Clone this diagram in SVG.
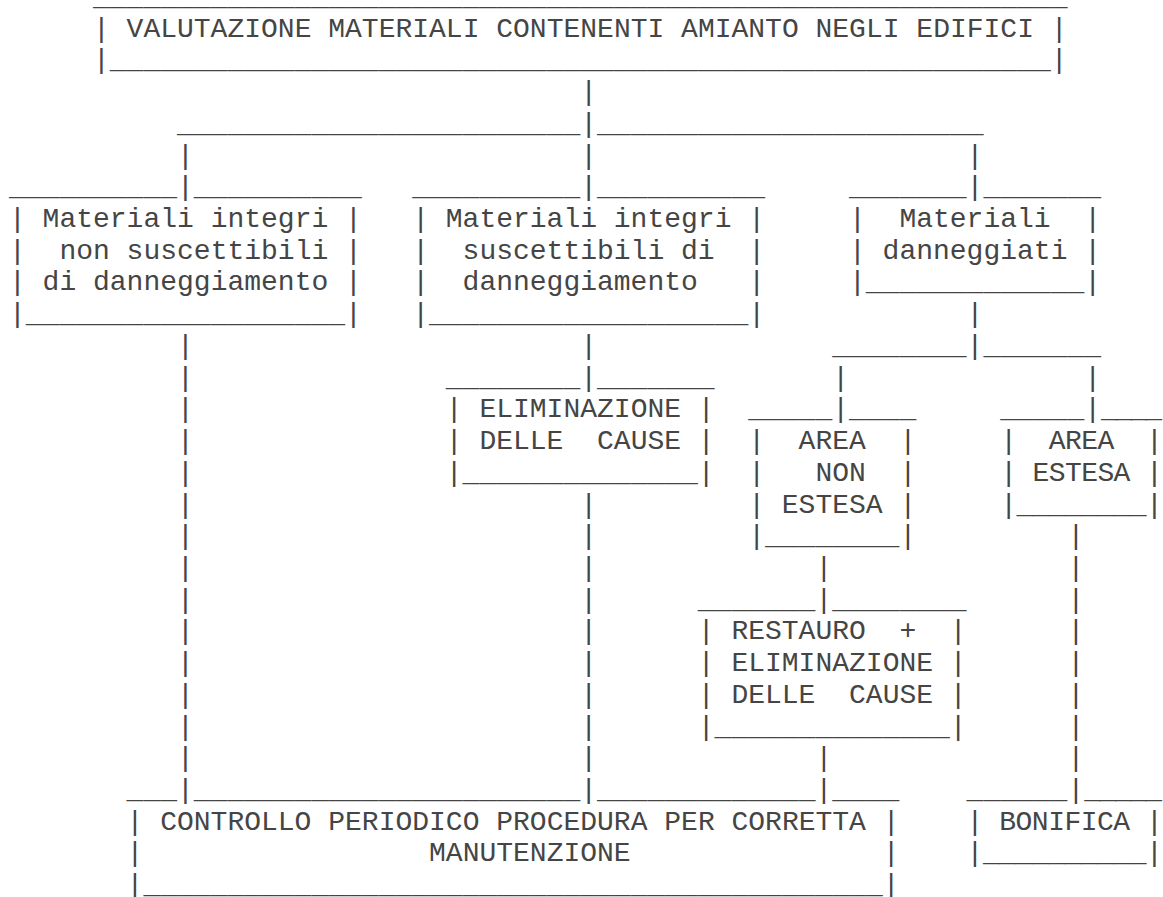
<svg xmlns="http://www.w3.org/2000/svg" width="1163" height="897" viewBox="0 0 1163 897">
<style>
text{font-family:"Liberation Mono","Courier New",monospace;font-size:28px;fill:#454545;white-space:pre}
</style>
<rect width="1163" height="897" fill="#ffffff"/>
<g id="connectors" xml:space="preserve">
<text x="580.2" y="100.16">|</text>
<text x="177" y="131.88">________________________|_______________________</text>
<text><tspan x="177" y="163.6">|</tspan><tspan x="177" y="195.32">|</tspan></text>
<text><tspan x="580.2" y="163.6">|</tspan><tspan x="580.2" y="195.32">|</tspan></text>
<text><tspan x="966.6" y="163.6">|</tspan><tspan x="966.6" y="195.32">|</tspan></text>
<text x="966.6" y="322.2">|</text>
<text><tspan x="177" y="353.92">|</tspan><tspan x="177" y="385.64">|</tspan><tspan x="177" y="417.36">|</tspan><tspan x="177" y="449.08">|</tspan><tspan x="177" y="480.8">|</tspan><tspan x="177" y="512.52">|</tspan><tspan x="177" y="544.24">|</tspan><tspan x="177" y="575.96">|</tspan><tspan x="177" y="607.68">|</tspan><tspan x="177" y="639.4">|</tspan><tspan x="177" y="671.12">|</tspan><tspan x="177" y="702.84">|</tspan><tspan x="177" y="734.56">|</tspan><tspan x="177" y="766.28">|</tspan><tspan x="177" y="798">|</tspan></text>
<text><tspan x="580.2" y="353.92">|</tspan><tspan x="580.2" y="385.64">|</tspan></text>
<text><tspan x="580.2" y="512.52">|</tspan><tspan x="580.2" y="544.24">|</tspan><tspan x="580.2" y="575.96">|</tspan><tspan x="580.2" y="607.68">|</tspan><tspan x="580.2" y="639.4">|</tspan><tspan x="580.2" y="671.12">|</tspan><tspan x="580.2" y="702.84">|</tspan><tspan x="580.2" y="734.56">|</tspan><tspan x="580.2" y="766.28">|</tspan><tspan x="580.2" y="798">|</tspan></text>
<text x="832.2" y="353.92">________|_______</text>
<text><tspan x="832.2" y="385.64">|</tspan><tspan x="832.2" y="417.36">|</tspan></text>
<text><tspan x="1084.2" y="385.64">|</tspan><tspan x="1084.2" y="417.36">|</tspan></text>
<text><tspan x="815.4" y="575.96">|</tspan><tspan x="815.4" y="607.68">|</tspan></text>
<text><tspan x="815.4" y="766.28">|</tspan><tspan x="815.4" y="798">|</tspan></text>
<text><tspan x="1067.4" y="544.24">|</tspan><tspan x="1067.4" y="575.96">|</tspan><tspan x="1067.4" y="607.68">|</tspan><tspan x="1067.4" y="639.4">|</tspan><tspan x="1067.4" y="671.12">|</tspan><tspan x="1067.4" y="702.84">|</tspan><tspan x="1067.4" y="734.56">|</tspan><tspan x="1067.4" y="766.28">|</tspan><tspan x="1067.4" y="798">|</tspan></text>
</g>
<g id="node-valutazione" xml:space="preserve">
<text x="93" y="5">__________________________________________________________</text>
<text x="93" y="36.72">| VALUTAZIONE MATERIALI CONTENENTI AMIANTO NEGLI EDIFICI |</text>
<text x="93" y="68.44">|________________________________________________________|</text>
</g>
<g id="node-integri-non-suscettibili" xml:space="preserve">
<text x="9" y="195.32">__________</text>
<text x="193.8" y="195.32">__________</text>
<text x="9" y="227.04">| Materiali integri |</text>
<text x="9" y="258.76">|  non suscettibili |</text>
<text x="9" y="290.48">| di danneggiamento |</text>
<text x="9" y="322.2">|___________________|</text>
</g>
<g id="node-integri-suscettibili" xml:space="preserve">
<text x="412.2" y="195.32">__________</text>
<text x="597" y="195.32">__________</text>
<text x="412.2" y="227.04">| Materiali integri |</text>
<text x="412.2" y="258.76">|  suscettibili di  |</text>
<text x="412.2" y="290.48">|  danneggiamento   |</text>
<text x="412.2" y="322.2">|___________________|</text>
</g>
<g id="node-danneggiati" xml:space="preserve">
<text x="849" y="195.32">_______</text>
<text x="983.4" y="195.32">_______</text>
<text x="849" y="227.04">|  Materiali  |</text>
<text x="849" y="258.76">| danneggiati |</text>
<text x="849" y="290.48">|_____________|</text>
</g>
<g id="node-eliminazione" xml:space="preserve">
<text x="445.8" y="385.64">________</text>
<text x="597" y="385.64">_______</text>
<text x="445.8" y="417.36">| ELIMINAZIONE |</text>
<text x="445.8" y="449.08">| DELLE  CAUSE |</text>
<text x="445.8" y="480.8">|______________|</text>
</g>
<g id="node-area-non-estesa" xml:space="preserve">
<text x="748.2" y="417.36">_____</text>
<text x="849" y="417.36">____</text>
<text x="748.2" y="449.08">|  AREA  |</text>
<text x="748.2" y="480.8">|   NON  |</text>
<text x="748.2" y="512.52">| ESTESA |</text>
<text x="748.2" y="544.24">|________|</text>
</g>
<g id="node-area-estesa" xml:space="preserve">
<text x="1000.2" y="417.36">_____</text>
<text x="1101" y="417.36" textLength="61" lengthAdjust="spacing">____</text>
<text x="1000.2" y="449.08" textLength="162.6">|  AREA  |</text>
<text x="1000.2" y="480.8" textLength="162.6">| ESTESA |</text>
<text x="1000.2" y="512.52" textLength="162.6">|________|</text>
</g>
<g id="node-restauro" xml:space="preserve">
<text x="697.8" y="607.68">_______</text>
<text x="832.2" y="607.68">________</text>
<text x="697.8" y="639.4">| RESTAURO  +  |</text>
<text x="697.8" y="671.12">| ELIMINAZIONE |</text>
<text x="697.8" y="702.84">| DELLE  CAUSE |</text>
<text x="697.8" y="734.56">|______________|</text>
</g>
<g id="node-controllo" xml:space="preserve">
<text x="126.6" y="798">___</text>
<text x="193.8" y="798">_______________________</text>
<text x="597" y="798">_____________</text>
<text x="832.2" y="798">____</text>
<text x="126.6" y="829.72">| CONTROLLO PERIODICO PROCEDURA PER CORRETTA |</text>
<text x="126.6" y="861.44">|                 MANUTENZIONE               |</text>
<text x="126.6" y="893.16">|____________________________________________|</text>
</g>
<g id="node-bonifica" xml:space="preserve">
<text x="966.6" y="798">______</text>
<text x="1084.2" y="798" textLength="77.8" lengthAdjust="spacing">_____</text>
<text x="966.6" y="829.72" textLength="196.2">| BONIFICA |</text>
<text x="966.6" y="861.44" textLength="196.2">|__________|</text>
</g>
</svg>
